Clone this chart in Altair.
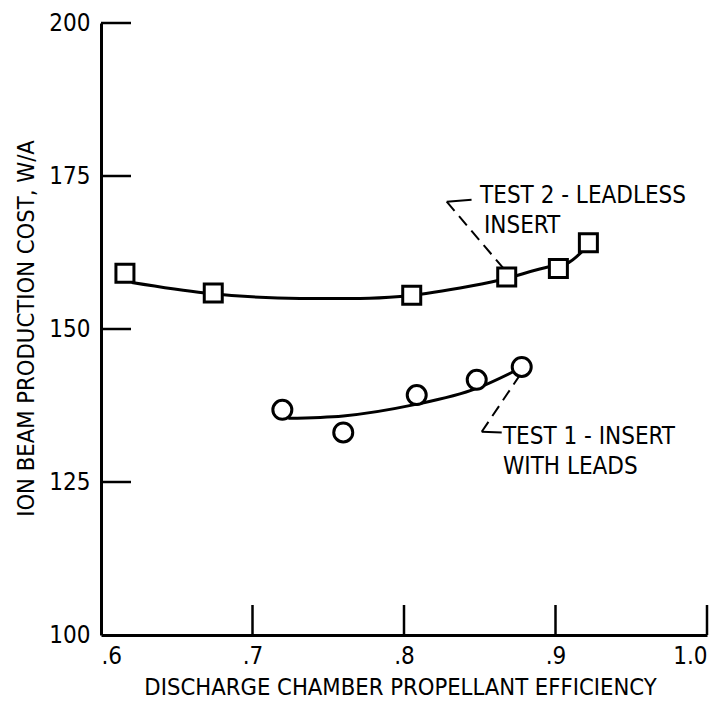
import altair as alt
import pandas as pd

# Measured points
test2_x = [0.6158, 0.6741, 0.8051, 0.8678, 0.9019, 0.9217]
test2_y = [159.1, 155.9, 155.5, 158.5, 159.9, 164.1]
test1_x = [0.7197, 0.7599, 0.8084, 0.8480, 0.8777]
test1_y = [136.8, 133.1, 139.2, 141.7, 143.8]

# Faired curves through each data set
fit2_x = [0.6203, 0.6686, 0.7314, 0.771, 0.7974, 0.837, 0.8634, 0.8964, 0.9074, 0.9173]
fit2_y = [157.6, 155.9, 155.0, 155.0, 155.3, 156.7, 158.0, 160.2, 160.7, 162.6]
fit1_x = [0.7236, 0.7599, 0.8061, 0.848, 0.8744]
fit1_y = [135.4, 135.8, 137.6, 140.3, 143.3]

# Leader lines from the labels to the curves
lead_solid_x = [0.8282, 0.8446, 0.8513, 0.8645]
lead_solid_y = [170.8, 171.1, 133.2, 133.1]
lead_solid_id = ["t2", "t2", "t1", "t1"]
lead_dash_x = [0.8282, 0.8667, 0.8766, 0.8513]
lead_dash_y = [170.8, 159.6, 142.5, 133.2]
lead_dash_id = ["t2", "t2", "t1", "t1"]

# Curve labels
label_text = ["TEST 2 - LEADLESS", "INSERT", "TEST 1 - INSERT", "WITH LEADS"]
label_x = [0.8502, 0.8528, 0.8653, 0.8653]
label_y = [171.7, 166.75, 132.35, 127.5]

x_ticks = [0.6, 0.7, 0.8, 0.9, 1.0]
y_ticks = [100, 125, 150, 175, 200]

FONT = "DejaVu Sans Condensed"
W, H = 606, 612
TICK = 30

xs = alt.Scale(domain=[0.6, 1.0], nice=False, zero=False)
ys = alt.Scale(domain=[100, 200], nice=False, zero=False)

x_axis = alt.Axis(
    values=x_ticks,
    labelExpr="datum.value >= 1 ? '1.0' : '.' + toString(round(datum.value * 10))",
    title="DISCHARGE CHAMBER PROPELLANT EFFICIENCY",
    titleX=299, titleY=52, titleBaseline="middle", titleAlign="center",
    labelPadding=9,
)
y_axis = alt.Axis(
    values=y_ticks,
    format="d",
    title="ION BEAM PRODUCTION COST, W/A",
    titleAngle=270, titleX=-75, titleY=305, titleBaseline="middle", titleAlign="center",
    labelPadding=11,
)

pts2 = pd.DataFrame({"x": test2_x, "y": test2_y})
pts1 = pd.DataFrame({"x": test1_x, "y": test1_y})
fit2 = pd.DataFrame({"x": fit2_x, "y": fit2_y})
fit1 = pd.DataFrame({"x": fit1_x, "y": fit1_y})
lsolid = pd.DataFrame({"x": lead_solid_x, "y": lead_solid_y, "id": lead_solid_id})
ldash = pd.DataFrame({"x": lead_dash_x, "y": lead_dash_y, "id": lead_dash_id})
labels = pd.DataFrame({"x": label_x, "y": label_y, "t": label_text})
xt = pd.DataFrame({"v": x_ticks[1:]})
yt = pd.DataFrame({"v": y_ticks[1:]})

base_axes = alt.Chart(fit2).mark_point(opacity=0).encode(
    x=alt.X("x:Q", scale=xs, axis=x_axis),
    y=alt.Y("y:Q", scale=ys, axis=y_axis),
)

curve2 = alt.Chart(fit2).mark_line(color="black", strokeWidth=3, interpolate="monotone").encode(
    x=alt.X("x:Q", scale=xs), y=alt.Y("y:Q", scale=ys)
)
curve1 = alt.Chart(fit1).mark_line(color="black", strokeWidth=3, interpolate="monotone").encode(
    x=alt.X("x:Q", scale=xs), y=alt.Y("y:Q", scale=ys)
)

solid = alt.Chart(lsolid).mark_line(color="black", strokeWidth=2).encode(
    x=alt.X("x:Q", scale=xs), y=alt.Y("y:Q", scale=ys), detail="id:N"
)
dashed = alt.Chart(ldash).mark_line(color="black", strokeWidth=2, strokeDash=[12, 7]).encode(
    x=alt.X("x:Q", scale=xs), y=alt.Y("y:Q", scale=ys), detail="id:N"
)

squares = alt.Chart(pts2).mark_point(
    shape="square", size=324, filled=True, fill="white", stroke="black", strokeWidth=3, opacity=1
).encode(x=alt.X("x:Q", scale=xs), y=alt.Y("y:Q", scale=ys))
circles = alt.Chart(pts1).mark_point(
    shape="circle", size=361, filled=True, fill="white", stroke="black", strokeWidth=3, opacity=1
).encode(x=alt.X("x:Q", scale=xs), y=alt.Y("y:Q", scale=ys))

text = alt.Chart(labels).mark_text(
    font=FONT, fontSize=24, align="left", baseline="middle", color="black"
).encode(x=alt.X("x:Q", scale=xs), y=alt.Y("y:Q", scale=ys), text="t:N")

# Inward-pointing tick marks
xtick_marks = alt.Chart(xt).mark_rule(color="black", strokeWidth=2.5).encode(
    x=alt.X("v:Q", scale=xs), y=alt.value(H), y2=alt.value(H - TICK)
)
ytick_marks = alt.Chart(yt).mark_rule(color="black", strokeWidth=2.5).encode(
    y=alt.Y("v:Q", scale=ys), x=alt.value(0), x2=alt.value(TICK)
)

chart = alt.layer(
    base_axes, xtick_marks, ytick_marks, curve2, curve1, solid, dashed, squares, circles, text
).properties(
    width=W, height=H,
    autosize=alt.AutoSizeParams(type="none"),
    padding={"left": 101, "top": 23, "right": 18, "bottom": 67},
    background="white",
).configure_view(stroke=None).configure_axis(
    domainColor="black", domainWidth=3, ticks=False, grid=False,
    labelFont=FONT, labelFontSize=24, labelColor="black",
    titleFont=FONT, titleFontSize=23.6, titleColor="black", titleFontWeight="normal",
)

chart.save("out.html", embed_options={"renderer": "svg", "actions": False})
